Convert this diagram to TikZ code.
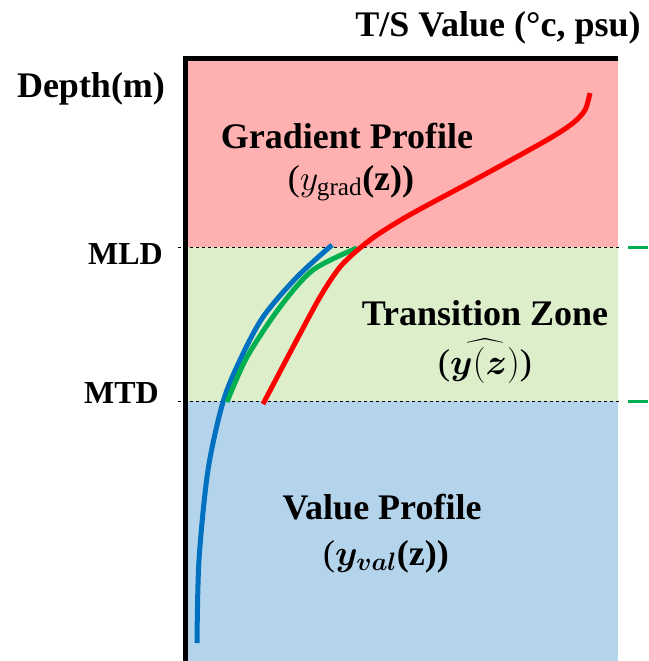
\RequirePackage{fix-cm}
\documentclass[tikz,border=0pt]{standalone}
\usepackage{fontspec}
\setmainfont{Liberation Serif}
\usepackage{amsmath,bm}

\definecolor{gradzone}{RGB}{255,176,176}
\definecolor{transzone}{RGB}{221,238,203}
\definecolor{valzone}{RGB}{180,212,236}
\definecolor{gradline}{RGB}{255,0,0}
\definecolor{valline}{RGB}{0,112,192}
\definecolor{transline}{RGB}{0,176,80}

\tikzset{
  profile/.style={line width=5pt},
  zonetext/.style={font=\fontsize{36}{40}\selectfont\bfseries, anchor=base, inner sep=0pt},
  depthtext/.style={font=\fontsize{32}{36}\selectfont\bfseries, anchor=base east, inner sep=0pt},
  mixline/.style={black, dashed, thin}
}

\begin{document}
\begin{tikzpicture}[x=1pt,y=-1pt]
\useasboundingbox (0,0) rectangle (648,661);
\fill[gradzone] (186,59) rectangle (618,247);
\fill[transzone] (186,247) rectangle (618,401);
\fill[valzone] (186,401) rectangle (618,661);
\draw[mixline] (178,247) -- (622,247);
\draw[mixline] (178,401) -- (622,401);
\draw[transline, line width=3pt] (628,247) -- (648,247);
\draw[transline, line width=3pt] (628,401) -- (648,401);

\draw[profile, valline] plot[smooth] coordinates {(332,245) (297,277) (263,317) (240,360) (223,402) (208,470) (199,560) (197,643)};
\draw[profile, transline] plot[smooth] coordinates {(357,248) (313,270) (280,307) (247,357) (227,402)};
\draw[profile, gradline] plot[smooth] coordinates {(590,93) (585,110) (573,123) (547,140) (480,177) (413,213) (380,233) (360,248) (340,267) (320,297) (293,347) (263,404)};

\draw[line width=5pt] (185.5,661) -- (185.5,59) -- (618,59);

\node[zonetext] (title) at (498,37) {T/S Value (°c, psu)};
\node[zonetext] (depth) at (91,97) {Depth(m)};
\node[depthtext] (mld) at (163,264) {MLD};
\node[depthtext] (mtd) at (159,403) {MTD};
\node[zonetext] (grad) at (347,148) {Gradient Profile};
\node[zonetext] (gradeq) at (351,190) {{\mdseries($y_{\mathrm{grad}}$}(z))};
\node[zonetext] (trans) at (485,325) {Transition Zone};
\node[zonetext] (transeq) at (485,374) {{\mdseries(}$\widehat{\bm{y}(\bm{z})}${\mdseries)}};
\node[zonetext] (val) at (382,519) {Value Profile};
\node[zonetext] (valeq) at (386,565) {{\mdseries(}$\bm{y_{val}}$(z))};
\end{tikzpicture}
\end{document}
